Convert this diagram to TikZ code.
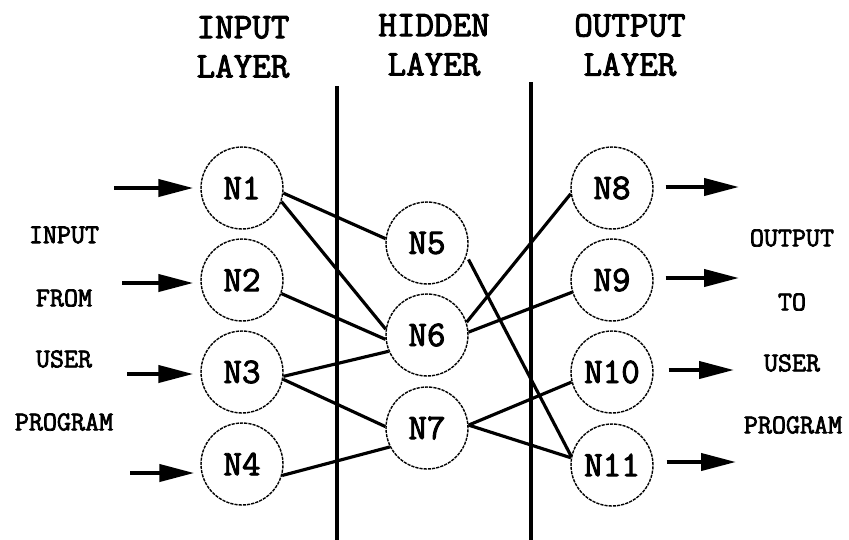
\documentclass[tikz,border=0pt]{standalone}
\usepackage{fontspec}
\newfontfamily\kurier[FakeBold=2.6]{Latin Modern Mono}
\usetikzlibrary{arrows.meta}

\tikzset{
	neuron/.style={circle, draw, line width=0.8pt, dash pattern=on 1.8pt off 0.6pt,
		minimum size=1.64cm, inner sep=0pt,
		font=\kurier\fontsize{20.5}{22}\selectfont},
	kopf/.style={align=center, font=\kurier\fontsize{20.5}{22.3}\selectfont},
	seite/.style={font=\kurier\fontsize{15.5}{16}\selectfont},
	kante/.style={line width=1.8pt},
	trenn/.style={line width=2.6pt},
	pfeil/.style={line width=2.3pt, -{Triangle[length=0.7cm,width=0.34cm]}},
}

\begin{document}
\begin{tikzpicture}[x=0.02cm, y=-0.02cm]

	% Rahmen
	\useasboundingbox (0,0) rectangle (849,539);

	% Trennlinien
	\coordinate (T1o) at (337,86);
	\coordinate (T1u) at (337,545);
	\coordinate (T2o) at (531,82);
	\coordinate (T2u) at (531,545);
	\draw[trenn] (T1o) -- (T1u);
	\draw[trenn] (T2o) -- (T2u);

	% Ueberschriften
	\node[kopf] (kIn) at (243,47) {INPUT\\LAYER};
	\node[kopf] (kHid) at (434,45) {HIDDEN\\LAYER};
	\node[kopf] (kOut) at (630,45) {OUTPUT\\LAYER};

	% Eingabeschicht
	\node[neuron] (N1) at (242,188) {N1};
	\node[neuron] (N2) at (242,280) {N2};
	\node[neuron] (N3) at (242,372) {N3};
	\node[neuron] (N4) at (242,464) {N4};

	% verdeckte Schicht
	\node[neuron] (N5) at (427,243) {N5};
	\node[neuron] (N6) at (427,335) {N6};
	\node[neuron] (N7) at (427,428) {N7};

	% Ausgabeschicht
	\node[neuron] (N8) at (612,188) {N8};
	\node[neuron] (N9) at (612,280) {N9};
	\node[neuron] (N10) at (612,372) {N10};
	\node[neuron] (N11) at (612,465) {N11};

	% Verbindungen
	\draw[kante] (N1.-7) -- (N5.174);
	\draw[kante] (N1.-19) -- (N6.172);
	\draw[kante] (N2.-19) -- (N6.-174);
	\draw[kante] (N3.-6) -- (N6.-157);
	\draw[kante] (N3.-10) -- (N7.178);
	\draw[kante] (N4.-16) -- (N7.-153);
	\draw[kante] (N6.18) -- (N8.-172);
	\draw[kante] (N6.4) -- (N9.-163);
	\draw[kante, shorten <=0.08cm] (N5.-18) -- (N11.168);
	\draw[kante] (N7.4) -- (N10.-166);
	\draw[kante] (N7.4) -- (N11.170);

	% Eingangspfeile
	\coordinate (e1) at (114,188);
	\coordinate (e2) at (122,283);
	\coordinate (e3) at (127,374);
	\coordinate (e4) at (130,473);
	\draw[pfeil, shorten >=0.14cm] (e1) -- (e1 -| N1.west);
	\draw[pfeil, shorten >=0.14cm] (e2) -- (e2 -| N2.west);
	\draw[pfeil, shorten >=0.14cm] (e3) -- (e3 -| N3.west);
	\draw[pfeil, shorten >=0.12cm] (e4) -- (e4 -| N4.west);

	% Ausgangspfeile
	\coordinate (a8) at (739,187);
	\coordinate (a9) at (739,278);
	\coordinate (a10) at (734,370);
	\coordinate (a11) at (736,462);
	\draw[pfeil, shorten <=0.24cm] (a8 -| N8.east) -- (a8);
	\draw[pfeil, shorten <=0.24cm] (a9 -| N9.east) -- (a9);
	\draw[pfeil, shorten <=0.3cm] (a10 -| N10.east) -- (a10);
	\draw[pfeil, shorten <=0.26cm] (a11 -| N11.east) -- (a11);

	% Beschriftung links
	\node[seite] (sIn1) at (64,235) {INPUT};
	\node[seite] (sIn2) at (64,298) {FROM};
	\node[seite] (sIn3) at (64,359) {USER};
	\node[seite] (sIn4) at (64,422) {PROGRAM};

	% Beschriftung rechts
	\node[seite] (sOut1) at (792,238) {OUTPUT};
	\node[seite] (sOut2) at (792,302) {TO};
	\node[seite] (sOut3) at (792,363) {USER};
	\node[seite] (sOut4) at (793,425) {PROGRAM};

\end{tikzpicture}
\end{document}
